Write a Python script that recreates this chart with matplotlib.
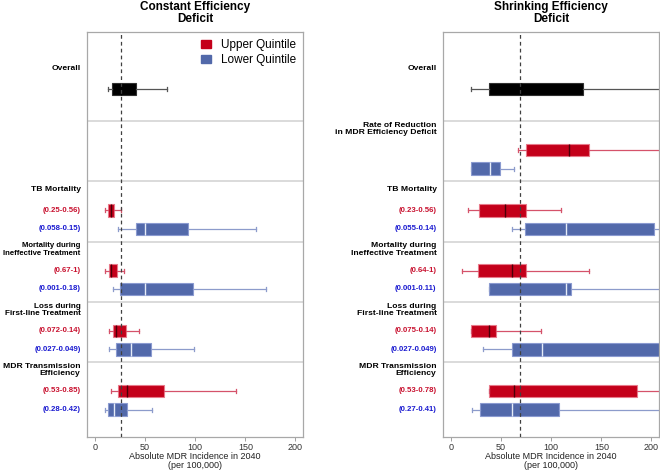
import matplotlib
matplotlib.use("Agg")
import matplotlib.pyplot as plt
from matplotlib.patches import Patch

plt.rcParams["font.family"] = ["Liberation Sans", "DejaVu Sans"]

RED = "#C4001A"
BLUE = "#5269AA"
RED_LABEL = "#C8102E"
BLUE_LABEL = "#1A1AD0"

categories = [
    "Rate of Reduction\nin MDR Efficiency Deficit",
    "TB Mortality",
    "Mortality during\nIneffective Treatment",
    "Loss during\nFirst-line Treatment",
    "MDR Transmission\nEfficiency",
]

# each box: [whisker low, q1, median, q3, whisker high]
overall_const = [13, 17, 26, 40.4, 71.5]
upper_const = [None,
               [10.3, 13, 15.7, 19, 25.7],
               [9.7, 14, 16.3, 21.7, 29],
               [13.7, 17.7, 20.7, 30.7, 44],
               [16.3, 22.7, 31.7, 69, 140.3]]
lower_const = [None,
               [23, 40.7, 50, 92.7, 160.3],
               [18.3, 25.3, 50, 98, 170.3],
               [14.3, 21, 36.3, 55.7, 99],
               [10.3, 13.3, 18.7, 31.7, 57.3]]
upper_const_labels = [None, "(0.25-0.56)", "(0.67-1)", "(0.072-0.14)", "(0.53-0.85)"]
lower_const_labels = [None, "(0.058-0.15)", "(0.001-0.18)", "(0.027-0.049)", "(0.28-0.42)"]
ref_const = 25.7

overall_shrink = [19.6, 38.2, 70, 131.2, 260]
upper_shrink = [[67, 74.7, 117.3, 137.5, 260],
                [17.3, 27.6, 53.5, 75, 109.6],
                [10.6, 27, 60.8, 75, 137.8],
                [19.6, 19.6, 38.2, 45, 90],
                [38.2, 38.2, 62.8, 185.7, 260]]
lower_shrink = [[19.6, 19.6, 38.5, 48.5, 63],
                [60.5, 74, 114.3, 203, 260],
                [38.2, 38.2, 114.3, 119.6, 260],
                [32.2, 60.5, 90.4, 260, 300],
                [20.6, 28.6, 60.5, 108, 260]]
upper_shrink_labels = [None, "(0.23-0.56)", "(0.64-1)", "(0.075-0.14)", "(0.53-0.78)"]
lower_shrink_labels = [None, "(0.055-0.14)", "(0.001-0.11)", "(0.027-0.049)", "(0.27-0.41)"]
ref_shrink = 69

xticks = [0, 50, 100, 150, 200]

side_labels = []


def stats(v):
    return dict(whislo=v[0], q1=v[1], med=v[2], q3=v[3], whishi=v[4], fliers=[])


def draw_box(ax, v, y, face, edge, whisk, med):
    ax.bxp([stats(v)], positions=[y], widths=12.5, capwidths=4,
           orientation="horizontal", patch_artist=True, showfliers=False,
           boxprops=dict(facecolor=face, edgecolor=edge, linewidth=0.8),
           whiskerprops=dict(color=whisk, linewidth=0.9),
           capprops=dict(color=whisk, linewidth=0.9),
           medianprops=dict(color=med, linewidth=1.0),
           manage_ticks=False)


def label(ax, text, y, color="black", size=6.1):
    t = ax.annotate(text, xy=(0, y), xycoords=ax.get_yaxis_transform(),
                    xytext=(-4.6, 0), textcoords="offset points", ha="right",
                    va="center", fontsize=size, fontweight="bold", color=color,
                    linespacing=1.05)
    side_labels.append(t)


def draw_panel(ax, title, overall, upper, lower, up_lab, lo_lab, cats, ref):
    ax.set_xlim(-8, 207.5)
    ax.set_ylim(405, 0)

    label(ax, "Overall", 36)
    draw_box(ax, overall, 57, "black", "#303030", "#555555", "black")

    seps = [89 + 60.25 * k for k in range(5)]
    for k, s in enumerate(seps):
        ax.axhline(s, color="#D8D8D8", lw=1.3, zorder=1)
        if cats[k]:
            label(ax, cats[k], s + 8)
        if upper[k] is not None:
            draw_box(ax, upper[k], s + 29, RED, "#E87A8A", "#D5526A", "#4A0008")
        if lower[k] is not None:
            draw_box(ax, lower[k], s + 47.5, BLUE, "#8A9AD0", "#8C9BCB", "#E6ECF8")
        if up_lab[k]:
            label(ax, up_lab[k], s + 29, RED_LABEL, 5.6)
        if lo_lab[k]:
            label(ax, lo_lab[k], s + 47.5, BLUE_LABEL, 5.6)

    ax.axvline(ref, color="#404040", ls=(0, (3, 2.5)), lw=0.9, zorder=5)

    ax.set_xticks(xticks)
    ax.set_yticks([])
    ax.tick_params(axis="x", labelsize=6.5, colors="#333333", length=3,
                   width=0.6, pad=1.5)
    ax.tick_params(axis="x", color="#909090")
    for sp in ax.spines.values():
        sp.set_color("#A8A8A8")
        sp.set_linewidth(0.9)
    ax.set_title(title, fontsize=8.5, fontweight="bold", pad=7, linespacing=1.0)
    ax.set_xlabel("Absolute MDR Incidence in 2040\n(per 100,000)", fontsize=6.5,
                  labelpad=0, color="#222222", linespacing=1.0)


fig = plt.figure(figsize=(6.6, 4.7), dpi=100)
ax1 = fig.add_axes([87 / 660, 33 / 470, 216 / 660, 405 / 470])
ax2 = fig.add_axes([443 / 660, 33 / 470, 216 / 660, 405 / 470])

draw_panel(ax1, "Constant Efficiency\nDeficit", overall_const, upper_const,
           lower_const, upper_const_labels, lower_const_labels,
           [""] + categories[1:], ref_const)
draw_panel(ax2, "Shrinking Efficiency\nDeficit", overall_shrink, upper_shrink,
           lower_shrink, upper_shrink_labels, lower_shrink_labels,
           categories, ref_shrink)

handles = [Patch(facecolor=RED, edgecolor=RED, label="Upper Quintile"),
           Patch(facecolor=BLUE, edgecolor=BLUE, label="Lower Quintile")]
ax1.legend(handles=handles, loc="upper right", frameon=False, fontsize=8.5,
           handlelength=0.9, handleheight=0.75, handletextpad=0.8,
           labelspacing=0.25, borderaxespad=0.2, bbox_to_anchor=(1.0, 1.0))

# shrink any side label that would run off the left edge of the figure
renderer = fig.canvas.get_renderer()
for t in side_labels:
    while t.get_window_extent(renderer).x0 < 2 and t.get_fontsize() > 4:
        t.set_fontsize(t.get_fontsize() - 0.1)

fig.savefig("out.png", dpi=100)
